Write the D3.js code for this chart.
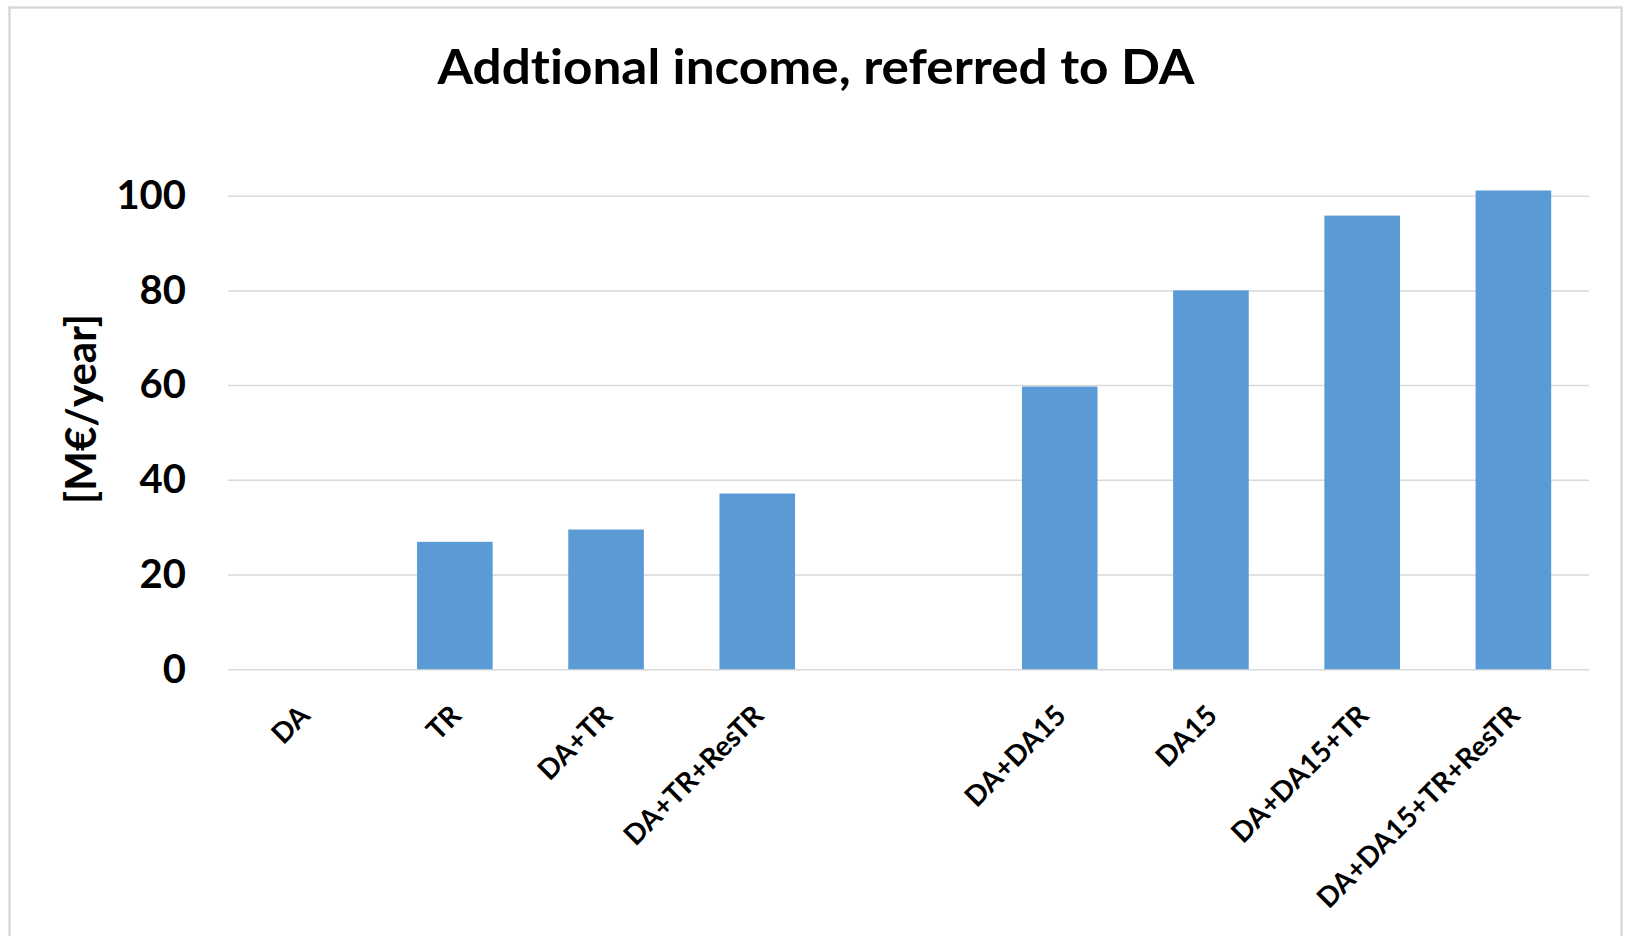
<!DOCTYPE html>
<html>
<head>
<meta charset="utf-8">
<script src="https://cdn.jsdelivr.net/npm/d3@7"></script>
<style>
  html, body { margin: 0; padding: 0; background: #ffffff; }
  svg { display: block; }
  text { font-family: Lato, "Open Sans", "DejaVu Sans", sans-serif; font-weight: bold; fill: #000;
         font-variant-ligatures: none; font-feature-settings: "liga" 0, "clig" 0; }
</style>
</head>
<body>
<script>
// ---- data ----
const categories = ["DA", "TR", "DA+TR", "DA+TR+ResTR", " ", "DA+DA15", "DA15", "DA+DA15+TR", "DA+DA15+TR+ResTR"];
const values = [0, 26.9, 29.5, 37.1, null, 59.7, 80.0, 95.8, 101.1];
const yTicks = [0, 20, 40, 60, 80, 100];
const titleText = "Addtional income, referred to DA";
const yTitleText = "[M\u20AC/year]";

// ---- layout ----
const W = 1625, H = 936;
const plot = { left: 228, right: 1589, top: 195.7, bottom: 669.2 };

const svg = d3.select("body").append("svg").attr("width", W).attr("height", H);

// chart border
svg.append("rect")
  .attr("x", 9.5).attr("y", 7.5)
  .attr("width", 1612).attr("height", 1000)
  .attr("fill", "#fff")
  .attr("stroke", "#d9d9d9").attr("stroke-width", 2.5);

const x = d3.scaleBand().domain(categories)
  .range([plot.left, plot.right])
  .paddingInner(0.5).paddingOuter(0.25);

const y = d3.scaleLinear().domain([0, 100]).range([plot.bottom, plot.top]);

// gridlines
svg.append("g")
  .attr("transform", `translate(${plot.left},0)`)
  .call(d3.axisLeft(y).tickValues(yTicks).tickSize(-(plot.right - plot.left)).tickFormat(""))
  .call(g => g.select(".domain").remove())
  .call(g => g.selectAll("line").attr("stroke", "#d9d9d9").attr("stroke-width", 1.5));

// bars
svg.append("g").selectAll("rect")
  .data(categories.map((c, i) => ({ c, v: values[i] })).filter(d => d.v !== null && d.v > 0))
  .join("rect")
  .attr("x", d => x(d.c))
  .attr("width", x.bandwidth())
  .attr("y", d => y(d.v))
  .attr("height", d => y(0) - y(d.v))
  .attr("fill", "#5b9bd5");

// y tick labels
svg.append("g")
  .attr("transform", `translate(${plot.left - 42},0)`)
  .call(d3.axisLeft(y).tickValues(yTicks).tickSize(0).tickPadding(0))
  .call(g => g.select(".domain").remove())
  .call(g => g.selectAll("text")
    .attr("font-size", 40).attr("font-family", "Lato, sans-serif")
    .attr("font-weight", "bold").attr("fill", "#000"));

// x tick labels
svg.append("g")
  .attr("transform", `translate(0,${plot.bottom})`)
  .call(d3.axisBottom(x).tickSize(0).tickFormat(d => d.trim()))
  .call(g => g.select(".domain").remove())
  .call(g => g.selectAll(".tick text")
    .attr("font-size", 28).attr("font-family", "Lato, sans-serif")
    .attr("font-weight", "bold").attr("fill", "#000")
    .attr("text-anchor", "end")
    .attr("dy", 0).attr("y", 0)
    .attr("transform", "translate(8,48) rotate(-45)"));

// title
svg.append("text")
  .attr("x", 816).attr("y", 84)
  .attr("text-anchor", "middle")
  .attr("font-size", 48)
  .attr("textLength", 757).attr("lengthAdjust", "spacingAndGlyphs")
  .text(titleText);

// y axis title
svg.append("text")
  .attr("transform", "translate(96,409) rotate(-90)")
  .attr("text-anchor", "middle")
  .attr("font-size", 42)
  .text(yTitleText);
</script>
</body>
</html>
